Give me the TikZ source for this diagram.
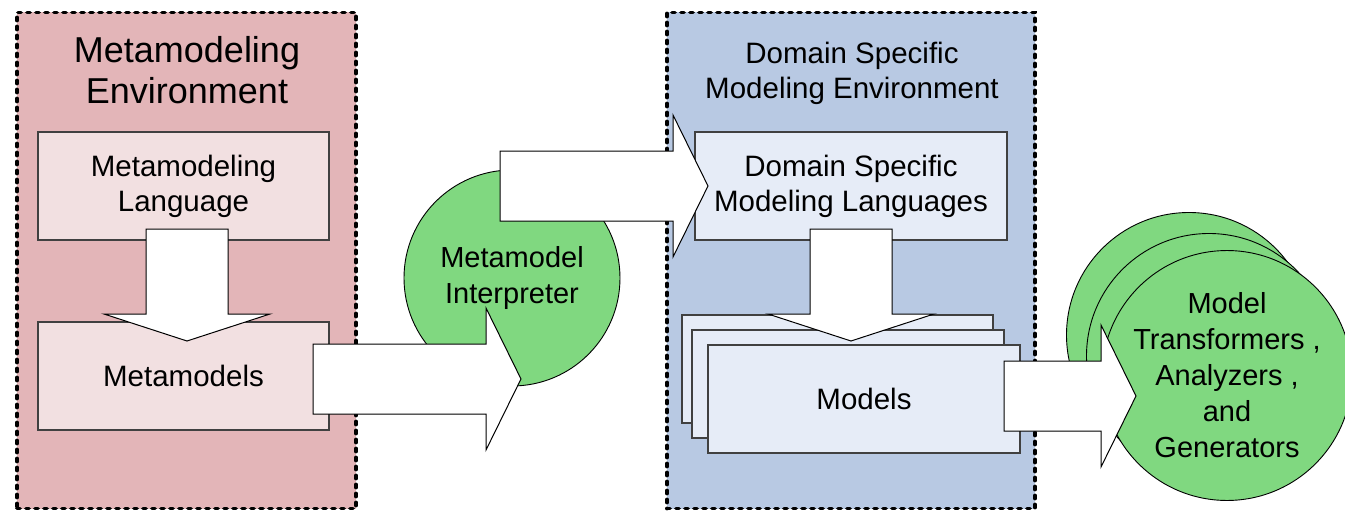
\documentclass[tikz,border=0pt]{standalone}
\usepackage{fontspec}
\setmainfont{Liberation Sans}
\usetikzlibrary{calc}
\definecolor{metapink}{RGB}{227,181,184}
\definecolor{metalight}{RGB}{242,224,225}
\definecolor{dsmblue}{RGB}{184,201,227}
\definecolor{dsmlight}{RGB}{230,236,247}
\definecolor{toolgreen}{RGB}{128,216,128}
\tikzset{
env/.style={draw, line width=3.8pt, dash pattern=on 3pt off 6pt,
    line cap=round, minimum width=#1, minimum height=496pt, inner sep=0pt},
envtitle/.style={align=center, inner sep=0pt},
box/.style={draw=black!75, line width=1.2pt, minimum width=#1,
    minimum height=108pt, inner sep=0pt, align=center,
    font=\fontsize{29.5}{35}\selectfont},
blob/.style={circle, draw, line width=0.9pt, fill=toolgreen, minimum size=#1,
    inner sep=0pt, align=center, font=\fontsize{29}{36}\selectfont},
blockarrow/.style={draw, fill=white, line width=1pt, line join=miter}
}
% block arrow pointing right, from the tail to the tip
\newcommand{\rarrow}[2]{
\draw[blockarrow] (#2) -- ++(-35,-71) -- ++(0,36) -- ($(#1|-#2)+(0,-35)$)
    -- ++(0,70) -- ($(#2)+(-35,35)$) -- ++(0,36) -- cycle;}
% block arrow pointing down
\newcommand{\darrow}[2]{
\draw[blockarrow] (#2) -- ++(-83,-27) -- ++(42,0) -- ($(#1-|#2)+(-41,0)$)
    -- ++(82,0) -- ($(#2)+(41,-27)$) -- ++(42,0) -- cycle;}

\begin{document}
\begin{tikzpicture}[x=1pt, y=-1pt]
	\useasboundingbox (0,0) rectangle (1345,511);

	% the two environments
	\node[env=339pt, fill=metapink] (metaenv) at (186.5,260.5) {};
	\node[envtitle, font=\fontsize{36}{41}\selectfont] (metatitle) at (187,70)
		{Metamodeling\\Environment};
	\node[env=368pt, fill=dsmblue] (dsmenv) at (851,260.5) {};
	\node[envtitle, font=\fontsize{29.5}{35}\selectfont] (dsmtitle) at (852,73)
		{Domain Specific\\Modeling Environment};

	\node[box=291pt, fill=metalight] (mml) at (183.5,186) {Metamodeling\\Language};
	\node[box=291pt, fill=metalight] (mm) at (183.5,376) {Metamodels};
	\node[box=312pt, fill=dsmlight] (dsml) at (851,186)
		{Domain Specific\\Modeling Languages};
	\node[box=311pt, fill=dsmlight] (models1) at (837.5,369) {};
	\node[box=312pt, fill=dsmlight] (models2) at (848,384) {};
	\node[box=312pt, fill=dsmlight] (models3) at (864,399) {Models};

	\coordinate (mml-out) at (187,229);
	\coordinate (mm-in) at (187,341);
	\coordinate (dsml-out) at (851,229);
	\coordinate (models-in) at (851,341);
	\darrow{mml-out}{mm-in}
	\darrow{dsml-out}{models-in}

	\node[blob=216pt] (interp) at (512,278) {Metamodel\\Interpreter};

	\coordinate (mm-out) at (313,379);
	\coordinate (interp-in) at (521,379);
	\coordinate (interp-out) at (500,186);
	\coordinate (dsml-in) at (708,186);
	\rarrow{mm-out}{interp-in}
	\rarrow{interp-out}{dsml-in}

	% stack of tools
	\node[blob=245pt] (tools1) at (1189,335) {};
	\node[blob=245pt] (tools2) at (1209,356) {};
	\node[blob=245pt] (tools3) at (1227,375.5)
		{Model\\Transformers ,\\Analyzers ,\\and\\Generators};

	\coordinate (models-out) at (1004,396);
	\coordinate (tools-in) at (1136,396);
	\rarrow{models-out}{tools-in}

\end{tikzpicture}
\end{document}
